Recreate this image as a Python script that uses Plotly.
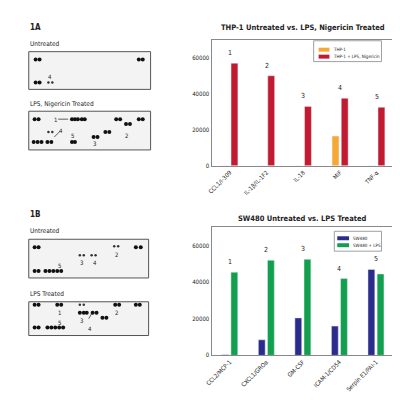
import plotly.graph_objects as go

FONT = "DejaVu Sans Condensed, Liberation Sans Narrow, Arial"

cats_a = ["CCL1/I-309", "IL-1β/IL-1F2", "IL-18", "MIF", "TNF-α"]
thp1 = [0, 0, 0, 16500, 0]
thp1_lps = [57000, 50000, 33000, 37500, 32500]
nums_a = ["1", "2", "3", "4", "5"]

cats_b = ["CCL2/MCP-1", "CXCL1/GROα", "GM-CSF", "ICAM-1/CD54", "Serpin E1/PAI-1"]
sw480 = [300, 8500, 20500, 16000, 47000]
sw480_lps = [45500, 52000, 52500, 42000, 44500]
nums_b = ["1", "2", "3", "4", "5"]

# blot spot positions (in 400x400 panel pixel units)
spots_big_x = [21,25,126,130,21,25,
               20,24,58,61,64,68,71,103,107,126,130,113,117,92,96,80,84,19,23,27,33,37,58,61,
               20,24,123,128,20,24,31,35,39,43,47,
               20,24,43,47,102,106,123,127,66,70,73,79,83,89,93,20,24,33,37,41,45,49]
spots_big_y = [52,52,52,52,75,75,
               112,112,112,112,112,112,112,112,112,112,112,117,117,125,125,130,130,135,135,135,135,135,135,135,
               241,241,241,241,265,265,265,265,265,265,265,
               299,299,299,299,299,299,299,299,307,307,307,307,307,312,312,322,322,322,322,322,322,322]
spots_small_x = [34,38,34,38,101,105,66,70,78,82,66,70]
spots_small_y = [75,75,125,125,240,240,249,249,249,249,299,299]

C_A0, C_A1, C_B0, C_B1 = "#F7A833", "#C21A30", "#2B2B8C", "#12A04E"

fig = go.Figure()
fig.add_trace(go.Scatter(x=spots_big_x, y=spots_big_y, mode="markers",
                         marker=dict(size=4, color="#111"), xaxis="x3", yaxis="y3", hoverinfo="skip"))
fig.add_trace(go.Scatter(x=spots_small_x, y=spots_small_y, mode="markers",
                         marker=dict(size=2.5, color="#333"), xaxis="x3", yaxis="y3", hoverinfo="skip"))
fig.add_trace(go.Bar(x=cats_a, y=thp1, name="THP-1", marker_color=C_A0, xaxis="x", yaxis="y"))
fig.add_trace(go.Bar(x=cats_a, y=thp1_lps, name="THP-1 + LPS, Nigericin", marker_color=C_A1, xaxis="x", yaxis="y"))
fig.add_trace(go.Bar(x=cats_b, y=sw480, name="SW480", marker_color=C_B0, xaxis="x2", yaxis="y2"))
fig.add_trace(go.Bar(x=cats_b, y=sw480_lps, name="SW480 + LPS", marker_color=C_B1, xaxis="x2", yaxis="y2"))

ax = dict(showgrid=False, showline=True, linecolor="#888", mirror=True, ticks="",
          tickfont=dict(size=6, family=FONT, color="#222"), zeroline=False)
fig.update_layout(
    width=400, height=400, margin=dict(l=0, r=0, t=0, b=0), showlegend=False,
    paper_bgcolor="white", plot_bgcolor="rgba(0,0,0,0)",
    barmode="group", bargap=0.5, bargroupgap=0.25,
    font=dict(family=FONT),
    xaxis=dict(domain=[0.5, 0.9675], anchor="y", tickangle=-45, **ax),
    yaxis=dict(domain=[0.6025, 0.92], anchor="x", range=[0, 70000], tickformat="d",
               tickvals=[0, 20000, 40000, 60000], **ax),
    xaxis2=dict(domain=[0.5, 0.965], anchor="y2", tickangle=-45, **ax),
    yaxis2=dict(domain=[0.125, 0.4475], anchor="x2", range=[0, 70000], tickformat="d",
                tickvals=[0, 20000, 40000, 60000], **ax),
    xaxis3=dict(domain=[0, 1], range=[0, 400], visible=False, anchor="y3"),
    yaxis3=dict(domain=[0, 1], range=[400, 0], visible=False, anchor="x3"),
)

shapes = []
def rect(x0, y0, x1, y1, fill, line="#555", w=1, layer="below"):
    shapes.append(dict(type="rect", xref="x3", yref="y3", x0=x0, y0=y0, x1=x1, y1=y1,
                       line=dict(color=line, width=w), fillcolor=fill, layer=layer))
for b in [(14, 44, 138, 82), (14, 104, 138, 143), (14, 233, 136, 272), (14, 296, 136, 330)]:
    rect(*b, "#F3F3F3")
for x0, y0, x1, y1 in [(44, 112, 54, 112), (40, 130, 46, 124), (75, 313, 78, 308)]:
    shapes.append(dict(type="line", xref="x3", yref="y3", x0=x0, y0=y0, x1=x1, y1=y1,
                       line=dict(color="#333", width=0.8)))

ann = []
def t(x, y, s, size=7, anchor="center", color="#222"):
    ann.append(dict(x=x, y=y, xref="x3", yref="y3", text=s, xanchor=anchor,
                    showarrow=False, font=dict(size=size, family=FONT, color=color)))

# manual legends
rect(304, 33, 373, 54, "white", "#888", 0.8, "above")
rect(309, 40, 320, 44, C_A0, C_A0, 0, "above"); t(322, 42, "THP-1", 4.5, "left")
rect(309, 47, 320, 51, C_A1, C_A1, 0, "above"); t(322, 49, "THP-1 + LPS, Nigericin", 4.5, "left")
rect(325, 225, 373, 245, "white", "#888", 0.8, "above")
rect(328, 230, 340, 234, C_B0, C_B0, 0, "above"); t(342, 232, "SW480", 4.5, "left")
rect(328, 237, 340, 241, C_B1, C_B1, 0, "above"); t(342, 239, "SW480 + LPS", 4.5, "left")
fig.update_layout(shapes=shapes)

t(13, 20, "<b>1A</b>", 8, "left"); t(13, 36, "Untreated", 6.5, "left"); t(13, 97, "LPS, Nigericin Treated", 6.5, "left")
t(36, 69, "4", 6); t(41, 112, "1", 6); t(47, 123, "4", 6); t(59, 128, "5", 6); t(81, 137, "3", 6); t(113, 128, "2", 6)
t(13, 208, "<b>1B</b>", 8, "left"); t(13, 225, "Untreated", 6.5, "left"); t(13, 288, "LPS Treated", 6.5, "left")
t(68, 256, "3", 6); t(81, 256, "4", 6); t(103, 248, "2", 6); t(45, 259, "5", 6)
t(45, 307, "1", 6); t(103, 307, "2", 6); t(68, 315, "3", 6); t(45, 317, "5", 6); t(76, 323, "4", 6)
t(293, 20, "<b>THP-1 Untreated vs. LPS, Nigericin Treated</b>", 7.5)
t(293, 212, "<b>SW480 Untreated vs. LPS Treated</b>", 7.5)
for i, c in enumerate(cats_a):
    ann.append(dict(x=c, y=max(thp1[i], thp1_lps[i]), xref="x", yref="y", text=nums_a[i],
                    showarrow=False, yshift=10, font=dict(size=7, family=FONT, color="#222")))
for i, c in enumerate(cats_b):
    ann.append(dict(x=c, y=max(sw480[i], sw480_lps[i]), xref="x2", yref="y2", text=nums_b[i],
                    showarrow=False, yshift=10, font=dict(size=7, family=FONT, color="#222")))
fig.update_layout(annotations=ann)

fig.write_html("out.html")
